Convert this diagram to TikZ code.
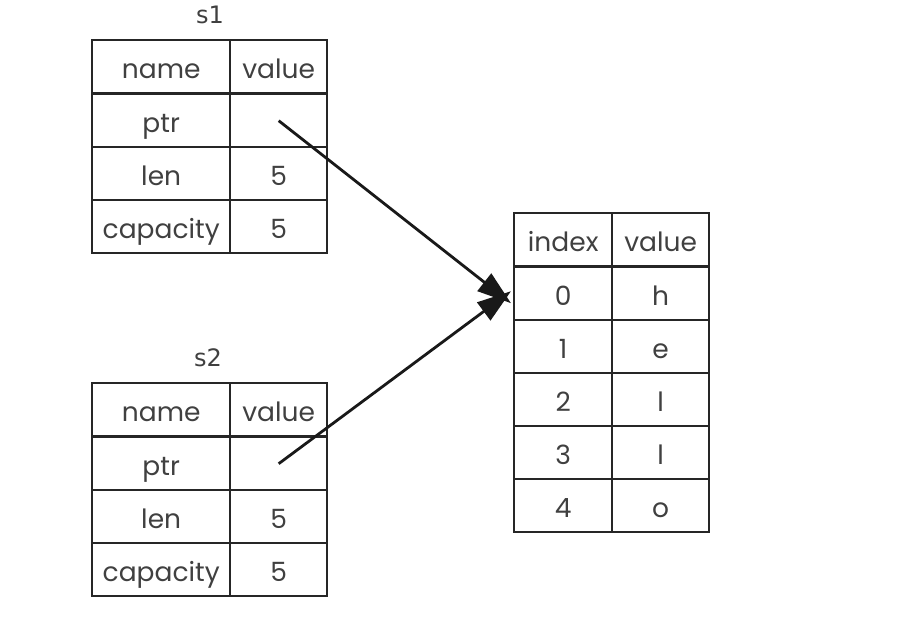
\documentclass[tikz,border=0pt]{standalone}
\usepackage{fontspec}
\setmainfont{Poppins}
\newfontfamily\titlefont{DejaVu Sans}
\usetikzlibrary{arrows.meta}
\begin{document}
\begin{tikzpicture}[x=1pt,y=-1pt,
  cell/.style={draw=black!85,line width=2.4pt,inner sep=0pt,anchor=north west,
    text height=24pt,text depth=0pt,
    font=\fontsize{26.5}{30}\selectfont\color{black!75}},
  ttl/.style={font=\titlefont\fontsize{24}{26}\selectfont\color{black!75}},
  ptr/.style={line width=2.8pt,draw=black!90,-{Triangle[length=34pt,width=22pt]}}]
\useasboundingbox (0,0) rectangle (922,632);
% s1 table
\node[ttl] (t1) at (210,15) {s1};
\foreach \r/\a/\b [count=\i from 0] in {39/name/value,93/ptr/,146/len/5,199/capacity/5}{
  \node[cell,minimum width=138pt,minimum height=53pt] (a\i) at (91,\r) {\a};
  \node[cell,minimum width=97pt,minimum height=53pt] (b\i) at (229,\r) {\b};
}
% s2 table
\node[ttl] (t2) at (208,358) {s2};
\foreach \r/\a/\b [count=\i from 0] in {382/name/value,436/ptr/,489/len/5,542/capacity/5}{
  \node[cell,minimum width=138pt,minimum height=53pt] (c\i) at (91,\r) {\a};
  \node[cell,minimum width=97pt,minimum height=53pt] (d\i) at (229,\r) {\b};
}
% heap table
\foreach \r/\a/\b [count=\i from 0] in {212/index/value,265.5/0/h,318.5/1/e,371.5/2/l,424.5/3/l,477.5/4/o}{
  \node[cell,minimum width=98pt,minimum height=53pt] (e\i) at (513,\r) {\a};
  \node[cell,minimum width=97pt,minimum height=53pt] (f\i) at (611,\r) {\b};
}
\draw[ptr] (b1.center) -- ([xshift=-2pt,yshift=-10pt]e1.west);
\draw[ptr] (d1.center) -- ([xshift=-2pt,yshift=2pt]e1.west);
\end{tikzpicture}
\end{document}
